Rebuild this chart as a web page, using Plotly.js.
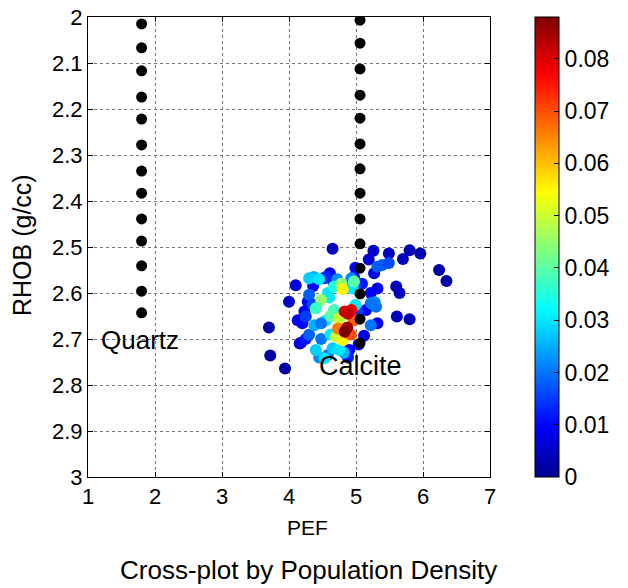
<!DOCTYPE html>
<html><head><meta charset="utf-8">
<script src="https://cdn.plot.ly/plotly-3.0.1.min.js"></script>
<style>body{margin:0;background:#fff}#c{width:628px;height:588px}</style>
</head><body><div id="c"></div>
<script>
// Mineral reference lines (black dots)
const quartzPEF = [1.80,1.80,1.80,1.80,1.80,1.80,1.80,1.80,1.80,1.80,1.80,1.80,1.80];
const quartzRHOB = [2.015,2.067,2.117,2.174,2.222,2.278,2.335,2.383,2.439,2.487,2.541,2.596,2.643];
const calcitePEF = [5.06,5.06,5.06,5.06,5.06,5.06,5.06,5.06,5.06,5.06,5.06,5.06,5.06,5.06];
const calciteRHOB = [2.007,2.057,2.113,2.170,2.220,2.276,2.330,2.383,2.439,2.493,2.546,2.602,2.657,2.709];

// Data points: PEF, RHOB, population density
const pef = [4.65,5.26,5.49,5.80,5.96,5.70,5.19,6.24,6.35,5.27,4.99,4.97,4.61,4.10,4.00,3.70,3.72,3.94,4.16,5.60,5.65,5.61,5.80,5.22,5.32,5.15,5.12,4.90,4.13,4.20,4.28,4.23,4.52,4.65,5.09,5.04,4.36,5.32,4.18,4.88,4.25,5.02,
  5.32,5.39,5.49,5.22,5.30,5.28,5.22,5.25,4.30,4.35,4.25,4.30,4.55,4.58,4.48,5.02,4.45,4.72,4.93,4.37,4.82,4.95,
  4.30,4.45,4.58,4.60,4.99,4.95,4.38,4.55,4.62,4.40,4.53,4.65,4.75,4.48,4.67,
  4.78,4.97,4.48,4.40,4.67,4.62,4.75,4.70,4.80,4.80,4.73,4.97,4.92,4.93,4.83,4.88,4.87,4.83];
const rhob = [2.504,2.508,2.514,2.507,2.514,2.526,2.527,2.550,2.574,2.557,2.545,2.565,2.557,2.583,2.619,2.675,2.736,2.764,2.710,2.586,2.600,2.651,2.657,2.600,2.590,2.637,2.693,2.724,2.659,2.666,2.619,2.640,2.568,2.573,2.580,2.712,2.585,2.666,2.708,2.740,2.700,2.640,
  2.543,2.539,2.535,2.622,2.630,2.620,2.670,2.625,2.604,2.625,2.651,2.691,2.565,2.735,2.700,2.640,2.740,2.570,2.568,2.565,2.730,2.583,
  2.568,2.570,2.600,2.610,2.626,2.590,2.670,2.660,2.690,2.724,2.742,2.720,2.724,2.666,2.586,
  2.580,2.575,2.615,2.633,2.637,2.650,2.655,2.695,2.592,2.702,2.677,2.659,2.690,2.637,2.640,2.645,2.675,2.684];
const density = [0.004,0.005,0.004,0.003,0.003,0.004,0.006,0.002,0.002,0.008,0.009,0.010,0.008,0.006,0.005,0.002,0.002,0.002,0.006,0.004,0.004,0.004,0.003,0.010,0.008,0.010,0.008,0.010,0.008,0.010,0.010,0.010,0.012,0.008,0.012,0.010,0.010,0.008,0.008,0.012,0.012,0.014,
  0.018,0.018,0.016,0.020,0.020,0.022,0.020,0.020,0.018,0.016,0.015,0.018,0.013,0.020,0.020,0.015,0.022,0.022,0.022,0.025,0.025,0.026,
  0.028,0.030,0.030,0.030,0.030,0.030,0.025,0.030,0.030,0.028,0.030,0.028,0.030,0.020,0.035,
  0.045,0.040,0.045,0.037,0.038,0.040,0.050,0.050,0.055,0.055,0.066,0.068,0.070,0.078,0.080,0.082,0.085,0.088];

const jet = [[0,'rgb(0,0,143)'],[0.111,'rgb(0,0,255)'],[0.365,'rgb(0,255,255)'],[0.619,'rgb(255,255,0)'],[0.873,'rgb(255,0,0)'],[1,'rgb(128,0,0)']];
const cbTicks = [0,0.01,0.02,0.03,0.04,0.05,0.06,0.07,0.08];

const F = 'Arial, "Liberation Sans", sans-serif';
const TF = 22;
const traces = [
  {x: pef, y: rhob, type: 'scatter', mode: 'markers', hoverinfo: 'skip',
   marker: {size: 12, color: density, colorscale: jet, cmin: 0, cmax: 0.088, line: {width: 0},
     colorbar: {x: 1.112, xanchor: 'left', xpad: 0, ypad: 0, y: 0.5, yanchor: 'middle', len: 1.0, lenmode: 'fraction',
       thickness: 24, outlinecolor: '#000', outlinewidth: 1, tickvals: cbTicks, ticktext: cbTicks.map(String),
       ticks: 'inside', ticklen: 5, tickcolor: '#000', tickfont: {family: F, size: 23, color: '#000'}}}},
  {x: quartzPEF, y: quartzRHOB, type: 'scatter', mode: 'markers', marker: {size: 11, color: '#000'}, hoverinfo: 'skip'},
  {x: calcitePEF, y: calciteRHOB, type: 'scatter', mode: 'markers', marker: {size: 11, color: '#000'}, hoverinfo: 'skip'}
];
const ax = {showline: true, linecolor: '#000', linewidth: 1, mirror: 'ticks', ticks: 'inside', ticklen: 5, tickcolor: '#000',
  showgrid: true, gridcolor: '#777', griddash: 'dot', gridwidth: 1, zeroline: false, tickfont: {family: F, size: TF, color: '#000'}};
const layout = {
  width: 628, height: 588, showlegend: false, paper_bgcolor: '#fff', plot_bgcolor: '#fff',
  margin: {l: 88, r: 138, t: 17, b: 111},
  xaxis: Object.assign({}, ax, {range: [1, 7], dtick: 1, tick0: 1}),
  yaxis: Object.assign({}, ax, {range: [3, 2], dtick: 0.1, tick0: 2}),
  annotations: [
    {text: 'PEF', xref: 'paper', yref: 'paper', x: (307-88)/402, y: -(527-477)/460, xanchor: 'center', yanchor: 'middle', showarrow: false, font: {family: F, size: 21, color: '#000'}},
    {text: 'RHOB (g/cc)', xref: 'paper', yref: 'paper', x: -(88-22)/402, y: 0.5 - (245-247)/460, textangle: -90, xanchor: 'center', yanchor: 'middle', showarrow: false, font: {family: F, size: 25, color: '#000'}},
    {text: 'Cross-plot by Population Density', xref: 'paper', yref: 'paper', x: (308-88)/402, y: -(570-477)/460, xanchor: 'center', yanchor: 'middle', showarrow: false, font: {family: F, size: 26, color: '#000'}},
    {text: 'Quartz', xref: 'x', yref: 'y', x: 1.17, y: 2.702, xanchor: 'left', yanchor: 'middle', showarrow: false, font: {family: F, size: 26, color: '#000'}},
    {text: 'Calcite', xref: 'x', yref: 'y', x: 4.42, y: 2.759, xanchor: 'left', yanchor: 'middle', showarrow: false, font: {family: F, size: 27, color: '#000'}}
  ]
};
Plotly.newPlot('c', traces, layout, {displayModeBar: false, staticPlot: true});
</script></body></html>
